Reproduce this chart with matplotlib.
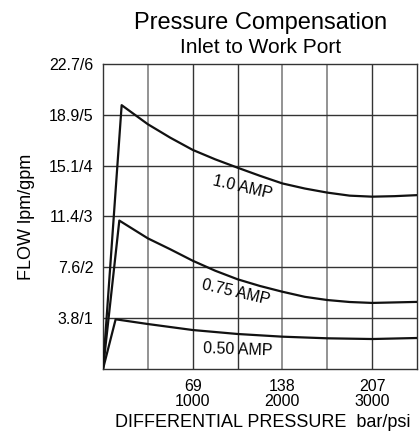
import matplotlib
matplotlib.use("Agg")
import matplotlib.pyplot as plt

plt.rcParams['font.family'] = ['Liberation Sans', 'DejaVu Sans']

# x in psi, y in gpm
psi_10 = [0, 208, 500, 750, 1000, 1250, 1500, 1750, 2000, 2250, 2500, 2750, 3000, 3250, 3500]
gpm_10 = [0, 5.19, 4.815, 4.55, 4.31, 4.125, 3.96, 3.80, 3.65, 3.55, 3.47, 3.41, 3.39, 3.40, 3.42]

psi_075 = [0, 182, 500, 750, 1000, 1250, 1500, 1750, 2000, 2250, 2500, 2750, 3000, 3250, 3500]
gpm_075 = [0, 2.92, 2.57, 2.355, 2.13, 1.934, 1.765, 1.633, 1.52, 1.42, 1.357, 1.318, 1.30, 1.31, 1.32]

psi_050 = [0, 141, 500, 1000, 1500, 2000, 2500, 3000, 3500]
gpm_050 = [0, 0.978, 0.885, 0.767, 0.689, 0.636, 0.604, 0.59, 0.61]

y_ticks = [1, 2, 3, 4, 5, 6]
y_labels = ["3.8/1", "7.6/2", "11.4/3", "15.1/4", "18.9/5", "22.7/6"]
x_ticks = [1000, 2000, 3000]
x_labels = ["69\n1000", "138\n2000", "207\n3000"]

fig = plt.figure(figsize=(4.19, 4.32), dpi=100)
ax = fig.add_axes([0.2458, 0.1458, 0.7494, 0.7061])

# grid
for gx in [500, 2000, 2500]:
    ax.axvline(gx, color='#8a8a8a', lw=1.3, zorder=1)
for gx in [1000, 1500, 3000]:
    ax.axvline(gx, color='#333333', lw=1.0, zorder=1)
for gy in y_ticks[:-1]:
    ax.axhline(gy, color='#333333', lw=1.0, zorder=1)

ax.plot(psi_10, gpm_10, color='#111111', lw=1.6, zorder=3)
ax.plot(psi_075, gpm_075, color='#111111', lw=1.6, zorder=3)
ax.plot(psi_050, gpm_050, color='#111111', lw=1.6, zorder=3)

ax.text(1555, 3.57, "1.0 AMP", rotation=-13, ha='center', va='center', fontsize=11.5)
ax.text(1483, 1.50, "0.75 AMP", rotation=-13, ha='center', va='center', fontsize=11.5)
ax.text(1500, 0.374, "0.50 AMP", rotation=-2, ha='center', va='center', fontsize=11.5)

ax.set_xlim(0, 3500)
ax.set_ylim(0, 6)
ax.set_yticks(y_ticks)
ax.set_yticklabels(y_labels, fontsize=11.5)
ax.set_xticks(x_ticks)
ax.set_xticklabels(x_labels, fontsize=11.5, linespacing=1.0)
ax.tick_params(length=0, pad=7)
for s in ax.spines.values():
    s.set_color('#333333')
    s.set_linewidth(1.0)

ax.set_ylabel("FLOW lpm/gpm", fontsize=13, labelpad=10)
fig.text(0.628, 0.021, "DIFFERENTIAL PRESSURE  bar/psi", ha='center', va='center', fontsize=13)

fig.text(0.623, 0.946, "Pressure Compensation", ha='center', va='center', fontsize=17)
fig.text(0.623, 0.891, "Inlet to Work Port", ha='center', va='center', fontsize=15)

fig.savefig("out.png", dpi=100)
